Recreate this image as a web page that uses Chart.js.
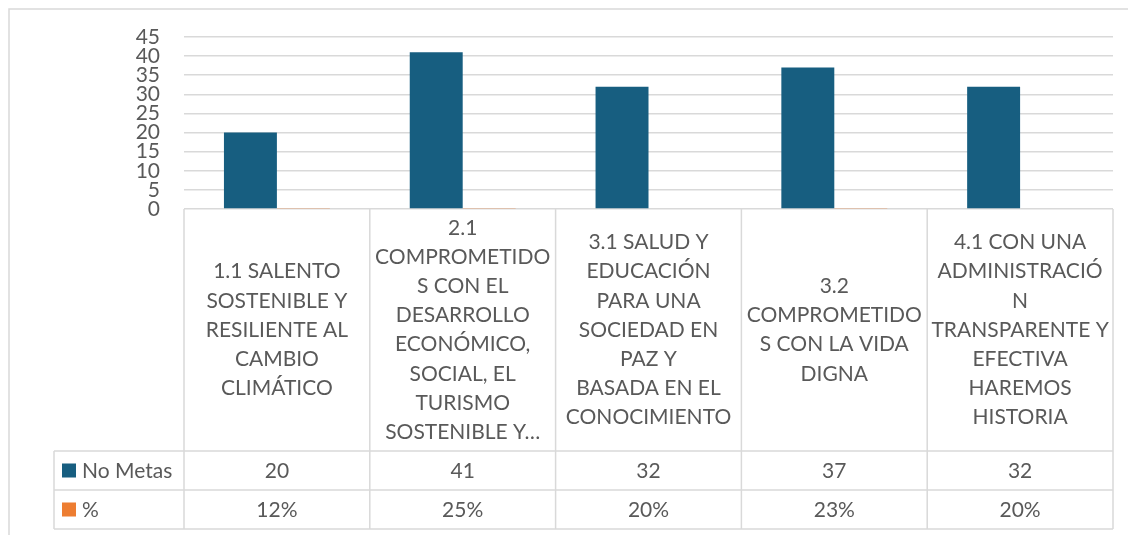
<!DOCTYPE html>
<html>
<head>
<meta charset="utf-8">
<script src="https://cdn.jsdelivr.net/npm/chart.js@4/dist/chart.umd.min.js"></script>
<style>
html,body{margin:0;padding:0;background:#fff;}
#wrap{width:1128px;height:535px;position:relative;}
</style>
</head>
<body>
<div id="wrap"><canvas id="c" width="1128" height="535"></canvas></div>
<script>
// ---- data ----
const categories = [
  ["1.1 SALENTO","SOSTENIBLE Y","RESILIENTE AL","CAMBIO","CLIMÁTICO"],
  ["2.1","COMPROMETIDO","S CON EL","DESARROLLO","ECONÓMICO,","SOCIAL, EL","TURISMO","SOSTENIBLE Y…"],
  ["3.1 SALUD Y","EDUCACIÓN","PARA UNA","SOCIEDAD EN","PAZ Y","BASADA EN EL","CONOCIMIENTO"],
  ["3.2","COMPROMETIDO","S CON LA VIDA","DIGNA"],
  ["4.1 CON UNA","ADMINISTRACIÓ","N","TRANSPARENTE Y","EFECTIVA","HAREMOS","HISTORIA"]
];
const seriesNames = ["No Metas", "%"];
const noMetas = [20, 41, 32, 37, 32];
const pct = [0.12, 0.25, 0.20, 0.23, 0.20];
const yTicks = [0, 5, 10, 15, 20, 25, 30, 35, 40, 45];

// ---- styles ----
const FONT = "Lato, 'Open Sans', sans-serif";
const TXT = "#595959";
const LINE = "#d9d9d9";
const colors = ["#175E80", "#ED7D31"];

const tablePlugin = {
  id: 'dataTable',
  beforeDraw(chart) {
    const ctx = chart.ctx;
    ctx.save();
    ctx.strokeStyle = LINE;
    ctx.lineWidth = 1.5;
    ctx.beginPath();
    ctx.moveTo(9, 535); ctx.lineTo(9, 9); ctx.lineTo(1128, 9);
    ctx.stroke();
    ctx.restore();
  },
  afterDraw(chart) {
    const ctx = chart.ctx, xs = chart.scales.x, ca = chart.chartArea;
    const n = categories.length;
    const w = (ca.right - ca.left) / n;
    const top = ca.bottom, catBottom = 451, row1 = 490, row2 = 529, legLeft = 54;
    ctx.save();
    ctx.strokeStyle = LINE;
    ctx.lineWidth = 1.5;
    ctx.beginPath();
    // horizontal lines
    [catBottom, row1, row2].forEach(y => { ctx.moveTo(legLeft, y); ctx.lineTo(ca.right, y); });
    // vertical lines
    for (let i = 0; i <= n; i++) {
      const x = i < n ? xs.getPixelForValue(i) - w / 2 : xs.getPixelForValue(n - 1) + w / 2;
      ctx.moveTo(x, top); ctx.lineTo(x, row2);
    }
    ctx.moveTo(legLeft, catBottom); ctx.lineTo(legLeft, row2);
    ctx.stroke();

    ctx.fillStyle = TXT;
    ctx.font = "21px " + FONT;
    ctx.textAlign = 'center';
    ctx.textBaseline = 'middle';
    const lh = 29.2;
    const midCat = (top + catBottom) / 2;
    categories.forEach((lines, i) => {
      const cx = xs.getPixelForValue(i);
      const y0 = midCat - (lines.length - 1) * lh / 2;
      lines.forEach((t, j) => ctx.fillText(t, cx, y0 + j * lh));
      ctx.fillText(String(noMetas[i]), cx, (catBottom + row1) / 2 + 1);
      ctx.fillText(Math.round(pct[i] * 100) + '%', cx, (row1 + row2) / 2 + 1);
    });
    // legend keys
    ctx.textAlign = 'left';
    [[catBottom, row1], [row1, row2]].forEach(([a, b], k) => {
      const cy = (a + b) / 2;
      ctx.fillStyle = colors[k];
      ctx.fillRect(62, cy - 7, 14, 14);
      ctx.fillStyle = TXT;
      ctx.fillText(seriesNames[k], 82, cy + 1);
    });
    ctx.restore();
  }
};

new Chart(document.getElementById('c'), {
  type: 'bar',
  data: {
    labels: categories,
    datasets: [
      { label: seriesNames[0], data: noMetas, backgroundColor: colors[0], borderWidth: 0 },
      { label: seriesNames[1], data: pct, backgroundColor: colors[1], borderWidth: 0 }
    ]
  },
  options: {
    responsive: false,
    animation: false,
    categoryPercentage: 0.57,
    barPercentage: 1.0,
    layout: { padding: { top: 37, bottom: 326, left: 0, right: 15 } },
    plugins: { legend: { display: false }, tooltip: { enabled: false } },
    scales: {
      x: { display: false },
      y: {
        min: yTicks[0], max: yTicks[yTicks.length - 1],
        afterBuildTicks: (axis) => { axis.ticks = yTicks.map(v => ({ value: v })); },
        afterFit: (axis) => { axis.width = 184; },
        border: { display: false },
        grid: { color: LINE, lineWidth: 1.5, drawTicks: false },
        ticks: { autoSkip: false, padding: 24, color: TXT, font: { family: FONT, size: 21 } }
      }
    }
  },
  plugins: [tablePlugin]
});
</script>
</body>
</html>
